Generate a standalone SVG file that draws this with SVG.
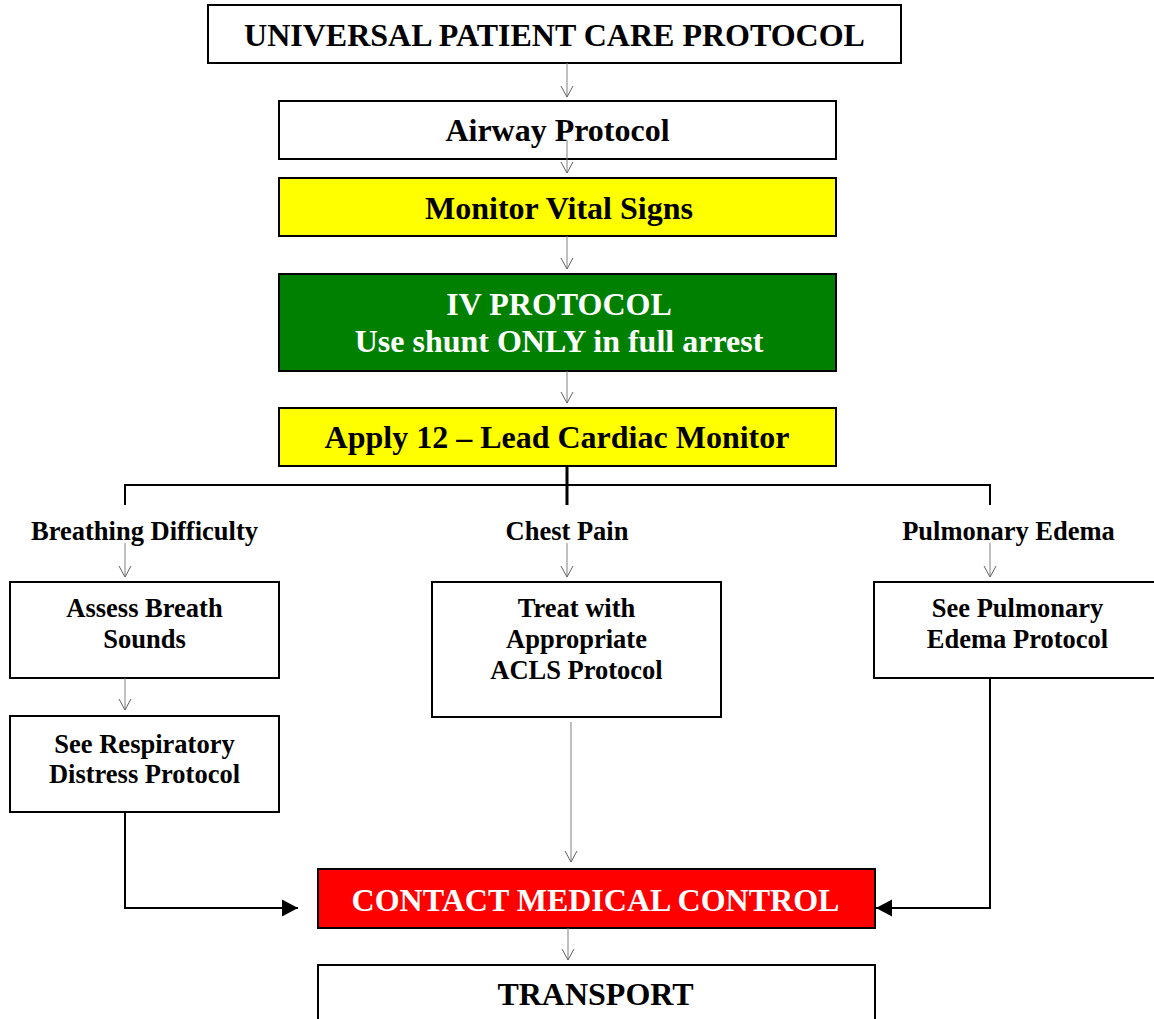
<svg xmlns="http://www.w3.org/2000/svg" width="1154" height="1019" viewBox="0 0 1154 1019">
  <style>
    .box { stroke: #000; stroke-width: 2; }
    .white { fill: #fff; }
    .yellow { fill: #ffff00; }
    .green { fill: #008000; }
    .red { fill: #ff0000; }
    text { font-family: "Liberation Serif", "Times New Roman", serif; font-weight: bold; text-anchor: middle; }
    .big { font-size: 32px; fill: #000; }
    .small { font-size: 26.5px; fill: #000; }
    .light { fill: #fff; }
    .thin { stroke: #808080; stroke-width: 1; fill: none; }
    .thick { stroke: #000; stroke-width: 2; fill: none; }
  </style>
  <defs>
    <!-- open "V" head for the thin grey flow lines -->
    <marker id="open" markerUnits="userSpaceOnUse" markerWidth="14" markerHeight="16" viewBox="-12 -8 14 16" refX="0" refY="0" orient="auto">
      <path d="M -11 -6 L 0 0 L -11 6" fill="none" stroke="#606060" stroke-width="1"/>
    </marker>
    <!-- solid head for the black elbow connectors -->
    <marker id="solid" markerUnits="userSpaceOnUse" markerWidth="20" markerHeight="20" viewBox="-18 -10 20 20" refX="0" refY="0" orient="auto">
      <path d="M -16 -8.5 L 0 0 L -16 8.5 Z" fill="#000"/>
    </marker>
  </defs>

  <rect width="1154" height="1019" fill="#fff"/>

  <!-- nodes -->
  <g id="universal">
    <rect class="box white" x="208" y="5" width="693" height="58"/>
    <text class="big" x="554.5" y="46">UNIVERSAL PATIENT CARE PROTOCOL</text>
  </g>
  <g id="airway">
    <rect class="box white" x="279" y="101" width="557" height="58"/>
    <text class="big" x="557.5" y="141">Airway Protocol</text>
  </g>
  <g id="vitals">
    <rect class="box yellow" x="279" y="178" width="557" height="58"/>
    <text class="big" x="559" y="219">Monitor Vital Signs</text>
  </g>
  <g id="iv">
    <rect class="box green" x="279" y="274" width="557" height="97"/>
    <text class="big light" x="559" y="315">IV PROTOCOL</text>
    <text class="big light" x="559" y="352">Use shunt ONLY in full arrest</text>
  </g>
  <g id="monitor12">
    <rect class="box yellow" x="279" y="408" width="557" height="58"/>
    <text class="big" x="557" y="448">Apply 12 – Lead Cardiac Monitor</text>
  </g>

  <g id="label-breathing">
    <text class="small" x="144.5" y="540">Breathing Difficulty</text>
  </g>
  <g id="label-chest">
    <text class="small" x="567" y="540">Chest Pain</text>
  </g>
  <g id="label-edema">
    <text class="small" x="1008.5" y="540">Pulmonary Edema</text>
  </g>

  <g id="breath-sounds">
    <rect class="box white" x="10" y="582" width="269" height="96"/>
    <text class="small" x="144.5" y="617">Assess Breath</text>
    <text class="small" x="144.5" y="648">Sounds</text>
  </g>
  <g id="respiratory">
    <rect class="box white" x="10" y="716" width="269" height="96"/>
    <text class="small" x="144.5" y="753">See Respiratory</text>
    <text class="small" x="144.5" y="783">Distress Protocol</text>
  </g>
  <g id="acls">
    <rect class="box white" x="432" y="582" width="289" height="135"/>
    <text class="small" x="576.5" y="617">Treat with</text>
    <text class="small" x="576.5" y="648">Appropriate</text>
    <text class="small" x="576.5" y="679">ACLS Protocol</text>
  </g>
  <g id="edema">
    <rect class="box white" x="874" y="582" width="288" height="96"/>
    <text class="small" x="1017.5" y="617">See Pulmonary</text>
    <text class="small" x="1017.5" y="648">Edema Protocol</text>
  </g>

  <g id="medical-control">
    <rect class="box red" x="318" y="869" width="557" height="59"/>
    <text class="big light" x="595.5" y="911">CONTACT MEDICAL CONTROL</text>
  </g>
  <g id="transport">
    <rect class="box white" x="318" y="965" width="557" height="60"/>
    <text class="big" x="595.5" y="1005">TRANSPORT</text>
  </g>

  <!-- connectors, drawn on top of the boxes -->
  <g id="connectors">
    <line class="thin" x1="567" y1="63" x2="567" y2="97" marker-end="url(#open)"/>
    <line class="thin" x1="567" y1="140" x2="567" y2="173" marker-end="url(#open)"/>
    <line class="thin" x1="567" y1="236" x2="567" y2="269" marker-end="url(#open)"/>
    <line class="thin" x1="567" y1="371" x2="567" y2="403" marker-end="url(#open)"/>
    <!-- branch bar -->
    <line x1="567" y1="466" x2="567" y2="505" stroke="#000" stroke-width="3"/>
    <polyline class="thick" points="125,505 125,485 990,485 990,505"/>
    <line class="thin" x1="125" y1="543" x2="125" y2="577" marker-end="url(#open)"/>
    <line class="thin" x1="567" y1="543" x2="567" y2="577" marker-end="url(#open)"/>
    <line class="thin" x1="990" y1="543" x2="990" y2="577" marker-end="url(#open)"/>
    <line class="thin" x1="125" y1="678" x2="125" y2="710" marker-end="url(#open)"/>
    <line class="thin" x1="571" y1="722" x2="571" y2="862" marker-end="url(#open)"/>
    <polyline class="thick" points="125,812 125,908 298,908" marker-end="url(#solid)"/>
    <polyline class="thick" points="990,678 990,908 876,908" marker-end="url(#solid)"/>
    <line class="thin" x1="568" y1="928" x2="568" y2="960" marker-end="url(#open)"/>
  </g>
</svg>
